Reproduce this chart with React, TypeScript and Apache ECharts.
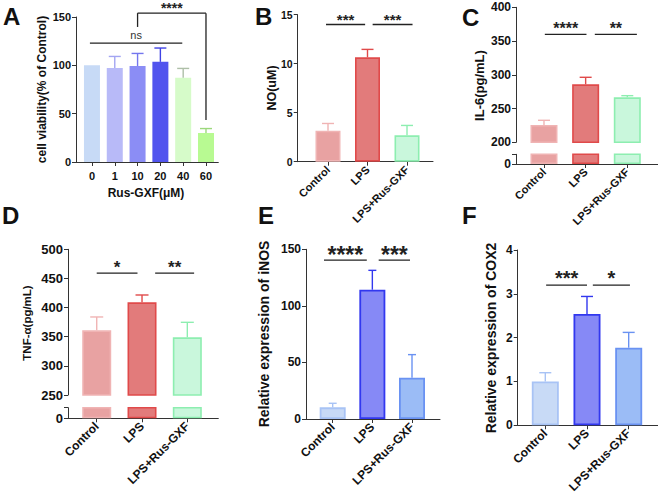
import React, { useEffect, useRef } from 'react';
import * as echarts from 'echarts';

const FONT = '"Liberation Sans", Arial, Helvetica, sans-serif';
const AXIS = '#333333';
const TEXT = '#111111';

// ---- A: cell viability vs Rus-GXF dose ----
const doseLabels = ['0', '1', '10', '20', '40', '60'];
const viabilityMean = [100, 97.3, 99.2, 103.6, 87.1, 30.0];
const viabilityErr = [0, 11.9, 13.1, 14.3, 9.7, 4.6];
const doseFills = ['#c7daf6', '#b8baf8', '#8b8df5', '#5154ee', '#d6fbc9', '#b8fa92'];
const doseEdges = ['#b3c9f0', '#a3a5f2', '#7476ee', '#3f43e4', '#aebfa8', '#9cd87c'];

// ---- B–F: treatment groups ----
const groups = ['Control', 'LPS', 'LPS+Rus-GXF'];
const noMean = [3.16, 10.65, 2.69];
const noErr = [0.74, 0.81, 1.01];
const il6Mean = [225.7, 285.9, 266.7];
const il6Err = [6.9, 10.4, 2.4];
const tnfMean = [361, 409, 349];
const tnfErr = [22.9, 12.6, 25.7];
const inosMean = [10.3, 114.3, 36.5];
const inosErr = [3.6, 17.1, 20.4];
const cox2Mean = [1.0, 2.54, 1.77];
const cox2Err = [0.2, 0.4, 0.35];

const redFills = ['#e8a2a2', '#e27b7b', '#c9f7dc'];
const redEdges = ['#f0b4b4', '#e04a4a', '#8deeb0'];
const blueFills = ['#c8daf6', '#8689f6', '#9bbcf6'];
const blueEdges = ['#a8c3f5', '#3238ef', '#6a92f2'];

// significance annotations: x0..x1 along the group axis, y in data units
type Sig = { x0: number; x1: number; y: number; text: string; drop0?: number; drop1?: number };
const sigA: Sig[] = [
  { x0: -0.09, x1: 3.96, y: 123, text: 'ns' },
  { x0: 2, x1: 5, y: 154, text: '****', drop0: 139.7, drop1: 43.5 },
];
const sigB: Sig[] = [
  { x0: -0.05, x1: 0.94, y: 14, text: '***' },
  { x0: 1.13, x1: 2.14, y: 14, text: '***' },
];
const sigC: Sig[] = [
  { x0: 0.02, x1: 1.02, y: 360, text: '****' },
  { x0: 1.22, x1: 2.23, y: 360, text: '**' },
];
const sigD: Sig[] = [
  { x0: 0, x1: 0.9, y: 459, text: '*' },
  { x0: 1.29, x1: 2.15, y: 459, text: '**' },
];
const sigE: Sig[] = [
  { x0: -0.22, x1: 0.86, y: 140.5, text: '****' },
  { x0: 1.16, x1: 1.95, y: 140.5, text: '***' },
];
const sigF: Sig[] = [
  { x0: 0.02, x1: 1.0, y: 3.2, text: '***' },
  { x0: 1.14, x1: 2.03, y: 3.2, text: '*' },
];

function grid(left: number, top: number, width: number, height: number) {
  return { left, top, width, height, containLabel: false, outerBoundsMode: 'none' };
}

// group axis as a numeric axis so the first/last bars can sit inset from the axis ends
function xGroupAxis(gridIndex: number, min: number, max: number, labels: string[], o: { show?: boolean; rotate?: number; fontSize: number; margin?: number }) {
  const idx = labels.map((_, i) => i);
  return {
    type: 'value', gridIndex, min, max, show: o.show ?? true,
    splitLine: { show: false },
    axisLine: { show: true, onZero: false, lineStyle: { color: AXIS, width: 1 } },
    axisTick: { show: true, length: 4, customValues: idx, lineStyle: { color: AXIS, width: 1 } },
    axisLabel: {
      customValues: idx,
      formatter: (v: number) => labels[Math.round(v)] ?? '',
      rotate: o.rotate ?? 0, margin: o.margin ?? 6,
      fontSize: o.fontSize, fontWeight: 'bold', fontFamily: FONT, color: TEXT,
    },
  };
}

function yValueAxis(gridIndex: number, min: number, max: number, interval: number, fontSize: number, formatter?: (v: number) => string) {
  return {
    type: 'value', gridIndex, min, max, interval,
    splitLine: { show: false },
    axisLine: { show: true, onZero: false, lineStyle: { color: AXIS, width: 1 } },
    axisTick: { show: true, length: 4, lineStyle: { color: AXIS, width: 1 } },
    axisLabel: { fontSize, fontWeight: 'bold', fontFamily: FONT, color: TEXT, margin: 5, formatter },
  };
}

function barSeries(g: number, means: number[], fills: string[], edges: string[], barWidth: number, borderWidth: number) {
  return {
    type: 'bar', xAxisIndex: g, yAxisIndex: g, barWidth, clip: true, silent: true,
    data: means.map((v, i) => ({ value: [i, v], itemStyle: { color: fills[i], borderColor: edges[i], borderWidth } })),
  };
}

function errorSeries(g: number, means: number[], errs: number[], edges: string[], cap: number) {
  return {
    type: 'custom', xAxisIndex: g, yAxisIndex: g, silent: true, z: 3,
    data: means.map((v, i) => [i, v, errs[i]]),
    encode: { x: 0, y: 1 },
    renderItem: (params: any, api: any) => {
      const i = params.dataIndex;
      const x = api.value(0), v = api.value(1), e = api.value(2);
      if (!e) return { type: 'group', children: [] };
      const a = api.coord([x, v]);
      const b = api.coord([x, v + e]);
      const style = { stroke: edges[i], lineWidth: 1.4 };
      return {
        type: 'group',
        children: [
          { type: 'line', shape: { x1: a[0], y1: a[1], x2: b[0], y2: b[1] }, style },
          { type: 'line', shape: { x1: b[0] - cap / 2, y1: b[1], x2: b[0] + cap / 2, y2: b[1] }, style },
        ],
      };
    },
  };
}

function sigSeries(g: number, sigs: Sig[], fs: number, gap: number) {
  return {
    type: 'custom', xAxisIndex: g, yAxisIndex: g, silent: true, clip: false, z: 4,
    data: sigs.map((s) => [s.x0, s.x1, s.y]),
    encode: { x: [0, 1], y: 2 },
    renderItem: (params: any, api: any) => {
      const s = sigs[params.dataIndex];
      const p0 = api.coord([api.value(0), api.value(2)]);
      const p1 = api.coord([api.value(1), api.value(2)]);
      const ls = { stroke: '#222', lineWidth: 1.3 };
      const children: any[] = [
        { type: 'line', shape: { x1: p0[0], y1: p0[1], x2: p1[0], y2: p1[1] }, style: ls },
      ];
      if (s.drop0 != null) {
        const d = api.coord([s.x0, s.drop0]);
        children.push({ type: 'line', shape: { x1: p0[0], y1: p0[1], x2: d[0], y2: d[1] }, style: ls });
      }
      if (s.drop1 != null) {
        const d = api.coord([s.x1, s.drop1]);
        children.push({ type: 'line', shape: { x1: p1[0], y1: p1[1], x2: d[0], y2: d[1] }, style: ls });
      }
      const cx = (p0[0] + p1[0]) / 2;
      const isNs = s.text === 'ns';
      const size = isNs ? 11 : fs;
      // asterisks sit high in the em box, so shift the anchor down a little
      const cy = p0[1] - gap + (isNs ? 0 : 0.235 * size);
      children.push({
        type: 'text', x: cx, y: cy,
        style: {
          text: s.text, fill: isNs ? '#333' : '#222',
          fontSize: size, fontWeight: isNs ? 'normal' : 'bold', fontFamily: FONT,
          align: 'center', verticalAlign: 'middle', textAlign: 'center', textVerticalAlign: 'middle',
        },
      });
      return { type: 'group', children };
    },
  };
}

function label(text: string, x: number, y: number, fontSize: number, rotated: boolean, align = 'center') {
  return {
    type: 'text', x, y, rotation: rotated ? Math.PI / 2 : 0, silent: true,
    style: {
      text, fill: '#111', fontSize, fontWeight: 'bold', fontFamily: FONT,
      align, verticalAlign: 'middle', textAlign: align, textVerticalAlign: 'middle',
    },
  };
}

function buildOption() {
  const grids = [
    grid(76, 17, 142.3, 145),        // 0 A
    grid(297.7, 14.7, 135.3, 147),   // 1 B
    grid(516, 7.3, 142, 135),        // 2 C upper
    grid(516, 154.3, 142, 9.7),      // 3 C lower
    grid(68, 249.3, 150.3, 145.7),   // 4 D upper
    grid(68, 407.7, 150.3, 10.6),    // 5 D lower
    grid(306, 249.3, 134, 169.7),    // 6 E
    grid(517.7, 250, 140.3, 175.3),  // 7 F
  ];
  const zeroOnly = (v: number) => (v === 0 ? '0' : '');
  const xAxis = [
    xGroupAxis(0, -0.70, 5.54, doseLabels, { fontSize: 11, margin: 8 }),
    xGroupAxis(1, -0.767, 2.658, groups, { fontSize: 11, rotate: 45 }),
    xGroupAxis(2, -0.672, 2.737, groups, { fontSize: 11, show: false }),
    xGroupAxis(3, -0.672, 2.737, groups, { fontSize: 11, rotate: 45 }),
    xGroupAxis(4, -0.634, 2.684, groups, { fontSize: 12, show: false }),
    xGroupAxis(5, -0.634, 2.684, groups, { fontSize: 12, rotate: 45 }),
    xGroupAxis(6, -0.673, 2.706, groups, { fontSize: 12, rotate: 45 }),
    xGroupAxis(7, -0.662, 2.703, groups, { fontSize: 12, rotate: 45 }),
  ];
  const yAxis = [
    yValueAxis(0, 0, 150, 50, 11),
    yValueAxis(1, 0, 15, 5, 10.5),
    yValueAxis(2, 200, 400, 50, 12),
    yValueAxis(3, 0, 10, 10, 12, zeroOnly),
    yValueAxis(4, 250, 500, 50, 13),
    yValueAxis(5, 0, 10, 10, 13, zeroOnly),
    yValueAxis(6, 0, 150, 50, 12),
    yValueAxis(7, 0, 4, 1, 12),
  ];
  const series = [
    barSeries(0, viabilityMean, doseFills, doseEdges, 16, 0),
    errorSeries(0, viabilityMean, viabilityErr, doseEdges, 12),
    sigSeries(0, sigA, 14, 8.5),

    barSeries(1, noMean, redFills, redEdges, 25, 1.6),
    errorSeries(1, noMean, noErr, redEdges, 12),
    sigSeries(1, sigB, 15, 8.5),

    barSeries(2, il6Mean, redFills, redEdges, 27, 1.6),
    barSeries(3, il6Mean, redFills, redEdges, 27, 1.6),
    errorSeries(2, il6Mean, il6Err, redEdges, 12),
    sigSeries(2, sigC, 16, 9.5),

    barSeries(4, tnfMean, redFills, redEdges, 29, 1.6),
    barSeries(5, tnfMean, redFills, redEdges, 29, 1.6),
    errorSeries(4, tnfMean, tnfErr, redEdges, 13),
    sigSeries(4, sigD, 17, 9.6),

    barSeries(6, inosMean, blueFills, blueEdges, 26, 1.8),
    errorSeries(6, inosMean, inosErr, blueEdges, 8),
    sigSeries(6, sigE, 23, 10),

    barSeries(7, cox2Mean, blueFills, blueEdges, 27, 1.8),
    errorSeries(7, cox2Mean, cox2Err, blueEdges, 12),
    sigSeries(7, sigF, 20, 11.7),
  ];
  const graphic = [
    label('A', 3, 16.5, 24, false, 'left'),
    label('B', 255, 16.5, 24, false, 'left'),
    label('C', 462, 17.5, 24, false, 'left'),
    label('D', 2, 215.5, 24, false, 'left'),
    label('E', 258, 215.5, 24, false, 'left'),
    label('F', 462, 215.5, 24, false, 'left'),
    label('cell viability(% of Control)', 42, 89.5, 12, true),
    label('Rus-GXF(μM)', 146, 192.5, 12, false),
    label('NO(uM)', 271.7, 88, 12.5, true),
    label('IL-6(pg/mL)', 479, 85.5, 13, true),
    label('TNF-α(pg/mL)', 26.5, 323, 11.5, true),
    label('Relative expression of iNOS', 264, 334, 14, true),
    label('Relative expression of COX2', 491, 338, 14, true),
  ];
  return {
    animation: false,
    backgroundColor: '#ffffff',
    textStyle: { fontFamily: FONT },
    grid: grids,
    xAxis,
    yAxis,
    series,
    graphic,
  };
}

export default function App() {
  const ref = useRef<HTMLDivElement>(null);
  useEffect(() => {
    if (!ref.current) return;
    const chart = echarts.init(ref.current, null, { renderer: 'svg' });
    chart.setOption(buildOption() as any);
    return () => chart.dispose();
  }, []);
  return (
    <div
      ref={ref}
      style={{ position: 'absolute', left: 0, top: 0, width: 658, height: 500, background: '#fff' }}
    />
  );
}
